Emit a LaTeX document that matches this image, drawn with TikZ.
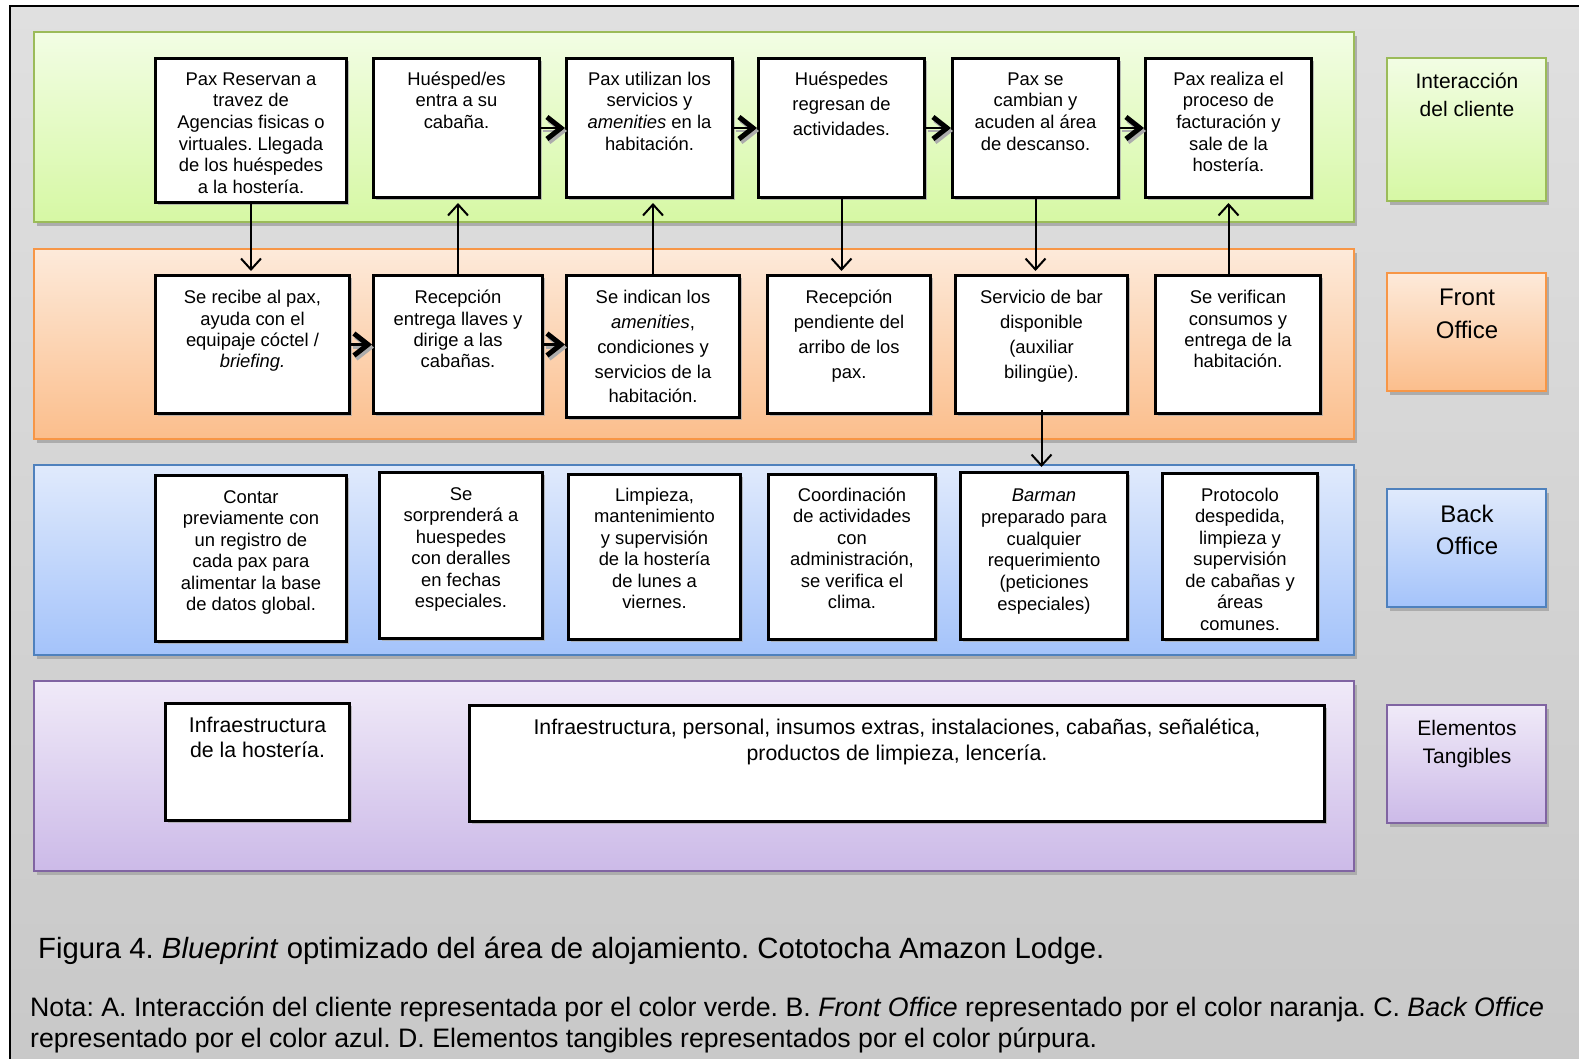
\documentclass[tikz,border=0pt]{standalone}
\usepackage{fontspec}
\setmainfont{Liberation Sans}
\usetikzlibrary{arrows.meta,shadows}
\frenchspacing

\definecolor{bgtop}{RGB}{224,224,224}
\definecolor{bgbot}{RGB}{200,200,200}
\definecolor{grnT}{RGB}{242,253,228}
\definecolor{grnB}{RGB}{214,248,164}
\definecolor{grnD}{RGB}{155,187,89}
\definecolor{orgT}{RGB}{253,234,218}
\definecolor{orgB}{RGB}{251,190,140}
\definecolor{orgD}{RGB}{247,150,70}
\definecolor{bluT}{RGB}{224,234,252}
\definecolor{bluB}{RGB}{164,195,250}
\definecolor{bluD}{RGB}{79,129,189}
\definecolor{purT}{RGB}{240,234,248}
\definecolor{purB}{RGB}{204,186,232}
\definecolor{purD}{RGB}{128,100,162}
\definecolor{shd}{RGB}{172,172,172}

\tikzset{
  lane/.style={draw=#1D, line width=2pt, top color=#1T, bottom color=#1B,
    inner sep=0pt,
    drop shadow={shadow xshift=3pt, shadow yshift=-4pt, fill=shd, opacity=1}},
  card/.style={draw=black, line width=3pt, fill=white, inner sep=0pt,
    drop shadow={shadow xshift=2pt, shadow yshift=-2pt, fill=shd, opacity=0.8}},
  cardtext/.style={align=center, inner sep=0pt, text=black},
  varrow/.style={line width=2pt,
    -{Straight Barb[length=11pt,width=20pt,line width=2pt]}},
  harrow/.style={line width=2.5pt,
    -{Straight Barb[length=14pt,width=22pt,line width=5pt]}},
}

% lane or tag box: name, colour prefix, x1, y1, x2, y2
\newcommand\lanebox[6]{%
  \pgfmathsetmacro\lw{#5-#3-2}\pgfmathsetmacro\lh{#6-#4-2}%
  \pgfmathsetmacro\lx{(#3+#5)/2}\pgfmathsetmacro\ly{(#4+#6)/2}%
  \node[lane=#2, minimum width=\lw pt, minimum height=\lh pt] (#1) at (\lx,\ly) {};}

% white step box: name, x1, y1, x2, y2, first baseline, font size, line skip, text
\newcommand\card[9]{%
  \pgfmathsetmacro\cw{#4-#2-3}\pgfmathsetmacro\ch{#5-#3-3}%
  \pgfmathsetmacro\cx{(#2+#4)/2}\pgfmathsetmacro\cy{(#3+#5)/2}%
  \pgfmathsetmacro\ct{#6-#7}%
  \node[card, minimum width=\cw pt, minimum height=\ch pt] (#1) at (\cx,\cy) {};
  \node[cardtext, anchor=north, font={\fontsize{#7}{#8}\selectfont}] (#1-t) at (\cx,\ct) {\rule{0pt}{#7pt}#9};}

\begin{document}
\begin{tikzpicture}[x=1pt,y=-1pt]
\useasboundingbox (0,0) rectangle (1579,1058);

% frame
\shade[top color=bgtop, bottom color=bgbot] (10,6) rectangle (1600,1080);
\draw[line width=2pt] (10,6) rectangle (1600,1080);

% lanes
\lanebox{lane1}{grn}{33}{31}{1355}{223}
\lanebox{lane2}{org}{33}{248}{1355}{440}
\lanebox{lane3}{blu}{33}{464}{1355}{656}
\lanebox{lane4}{pur}{33}{680}{1355}{872}

% lane tags
\lanebox{tag1}{grn}{1386}{57}{1547}{202}
\lanebox{tag2}{org}{1386}{272}{1547}{392}
\lanebox{tag3}{blu}{1386}{488}{1547}{608}
\lanebox{tag4}{pur}{1386}{704}{1547}{824}
\node[cardtext, anchor=north, font={\fontsize{21}{28.2}\selectfont}] (tag1-t) at (1467,67.5) {\rule{0pt}{21pt}Interacción\\del cliente};
\node[cardtext, anchor=north, font={\fontsize{24}{32.2}\selectfont}] (tag2-t) at (1467,281.6) {\rule{0pt}{24pt}Front\\Office};
\node[cardtext, anchor=north, font={\fontsize{24}{31.2}\selectfont}] (tag3-t) at (1467,498.6) {\rule{0pt}{24pt}Back\\Office};
\node[cardtext, anchor=north, font={\fontsize{21}{28.2}\selectfont}] (tag4-t) at (1467,714.5) {\rule{0pt}{21pt}Elementos\\Tangibles};

% customer interaction
\card{B1}{154}{57}{348}{204}{85.1}{18.4}{21.65}{Pax Reservan a\\travez de\\Agencias fisicas o\\virtuales. Llegada\\de los huéspedes\\a la hostería.}
\card{B2}{372}{57}{541}{199}{85.1}{18.4}{21.65}{Huésped/es\\entra a su\\cabaña.}
\card{B3}{565}{57}{734}{199}{85.1}{18.4}{21.65}{Pax utilizan los\\servicios y\\\textit{amenities} en la\\habitación.}
\card{B4}{757}{57}{926}{199}{85.1}{18.4}{25.2}{Huéspedes\\regresan de\\actividades.}
\card{B5}{951}{57}{1120}{199}{85.1}{18.4}{21.65}{Pax se\\cambian y\\acuden al área\\de descanso.}
\card{B6}{1144}{57}{1313}{199}{85.1}{18.4}{21.65}{Pax realiza el\\proceso de\\facturación y\\sale de la\\hostería.}

% front office
\card{C1}{154}{274}{351}{415}{303.7}{18.4}{21.2}{Se recibe al pax,\\ayuda con el\\equipaje cóctel /\\\textit{briefing.}}
\card{C2}{372}{274}{544}{415}{303.7}{18.4}{21.2}{Recepción\\entrega llaves y\\dirige a las\\cabañas.}
\card{C3}{565}{274}{741}{419}{303.7}{18.4}{24.7}{Se indican los\\\textit{amenities},\\condiciones y\\servicios de la\\habitación.}
\card{C4}{766}{274}{932}{415}{303.7}{18.4}{24.7}{Recepción\\pendiente del\\arribo de los\\pax.}
\card{C5}{954}{274}{1129}{415}{303.7}{18.4}{24.7}{Servicio de bar\\disponible\\(auxiliar\\bilingüe).}
\card{C6}{1154}{274}{1322}{415}{303.7}{18.4}{21.2}{Se verifican\\consumos y\\entrega de la\\habitación.}

% back office
\card{D1}{154}{474}{348}{643}{503}{18.4}{21.5}{Contar\\previamente con\\un registro de\\cada pax para\\alimentar la base\\de datos global.}
\card{D2}{378}{471}{544}{640}{500}{18.4}{21.5}{Se\\sorprenderá a\\huespedes\\con deralles\\en fechas\\especiales.}
\card{D3}{567}{473}{742}{641}{501}{18.4}{21.5}{Limpieza,\\mantenimiento\\y supervisión\\de la hostería\\de lunes a\\viernes.}
\card{D4}{767}{473}{937}{641}{501}{18.4}{21.5}{Coordinación\\de actividades\\con\\administración,\\se verifica el\\clima.}
\card{D5}{959}{471}{1129}{641}{501}{18.4}{21.9}{\textit{Barman}\\preparado para\\cualquier\\requerimiento\\(peticiones\\especiales)}
\card{D6}{1161}{472}{1319}{641}{501}{18.4}{21.5}{Protocolo\\despedida,\\limpieza y\\supervisión\\de cabañas y\\áreas\\comunes.}

% tangible elements
\card{E1}{164}{702}{351}{822}{732.7}{21.3}{24.2}{Infraestructura\\de la hostería.}
\card{E2}{468}{704}{1326}{823}{734.7}{21.3}{25.2}{Infraestructura, personal, insumos extras, instalaciones, cabañas, señalética,\\productos de limpieza, lencería.}

% flow along the customer line
\foreach \a/\b in {B2/B3,B3/B4,B4/B5,B5/B6}{
  \draw[harrow, shd, transform canvas={shift={(2pt,-3pt)}}] (\a.east) -- (\b.west);
  \draw[harrow] (\a.east) -- (\b.west);
}
\foreach \a/\b in {C1/C2,C2/C3}{
  \draw[harrow, shd, transform canvas={shift={(2pt,-3pt)}}] (\a.east) -- (\a.east -| \b.west);
  \draw[harrow] (\a.east) -- (\a.east -| \b.west);
}

% links between lines
\draw[varrow, shorten >=3pt] (B1.south) -- (B1.south |- C1.north);
\draw[varrow, shorten >=4pt] (C2.north) -- (C2.north |- B2.south);
\draw[varrow, shorten >=4pt] (C3.north) -- (C3.north |- B3.south);
\draw[varrow, shorten >=3pt] (B4.south) -- (B4.south |- C4.north);
\draw[varrow, shorten >=3pt] (B5.south) -- (B5.south |- C5.north);
\draw[varrow, shorten >=4pt] (B6.south |- C6.north) -- (B6.south);
\draw[varrow, shorten >=4pt] ([yshift=5pt]C5.south) -- (C5.south |- D5.north);

% caption and note
\node[anchor=base west, inner sep=0pt, font={\fontsize{29.3}{34}\selectfont}] (cap) at (38,958.5)
  {Figura 4. \textit{Blueprint} optimizado del área de alojamiento. Cototocha Amazon Lodge.};
\node[anchor=north west, align=left, inner sep=0pt, font={\fontsize{26.7}{30.2}\selectfont}] (nota) at (30,989.9)
  {\rule{0pt}{26.7pt}Nota: A. Interacción del cliente representada por el color verde. B. \textit{Front Office} representado por el color naranja. C. \textit{Back Office}\\
   representado por el color azul. D. Elementos tangibles representados por el color púrpura.};
\end{tikzpicture}
\end{document}
